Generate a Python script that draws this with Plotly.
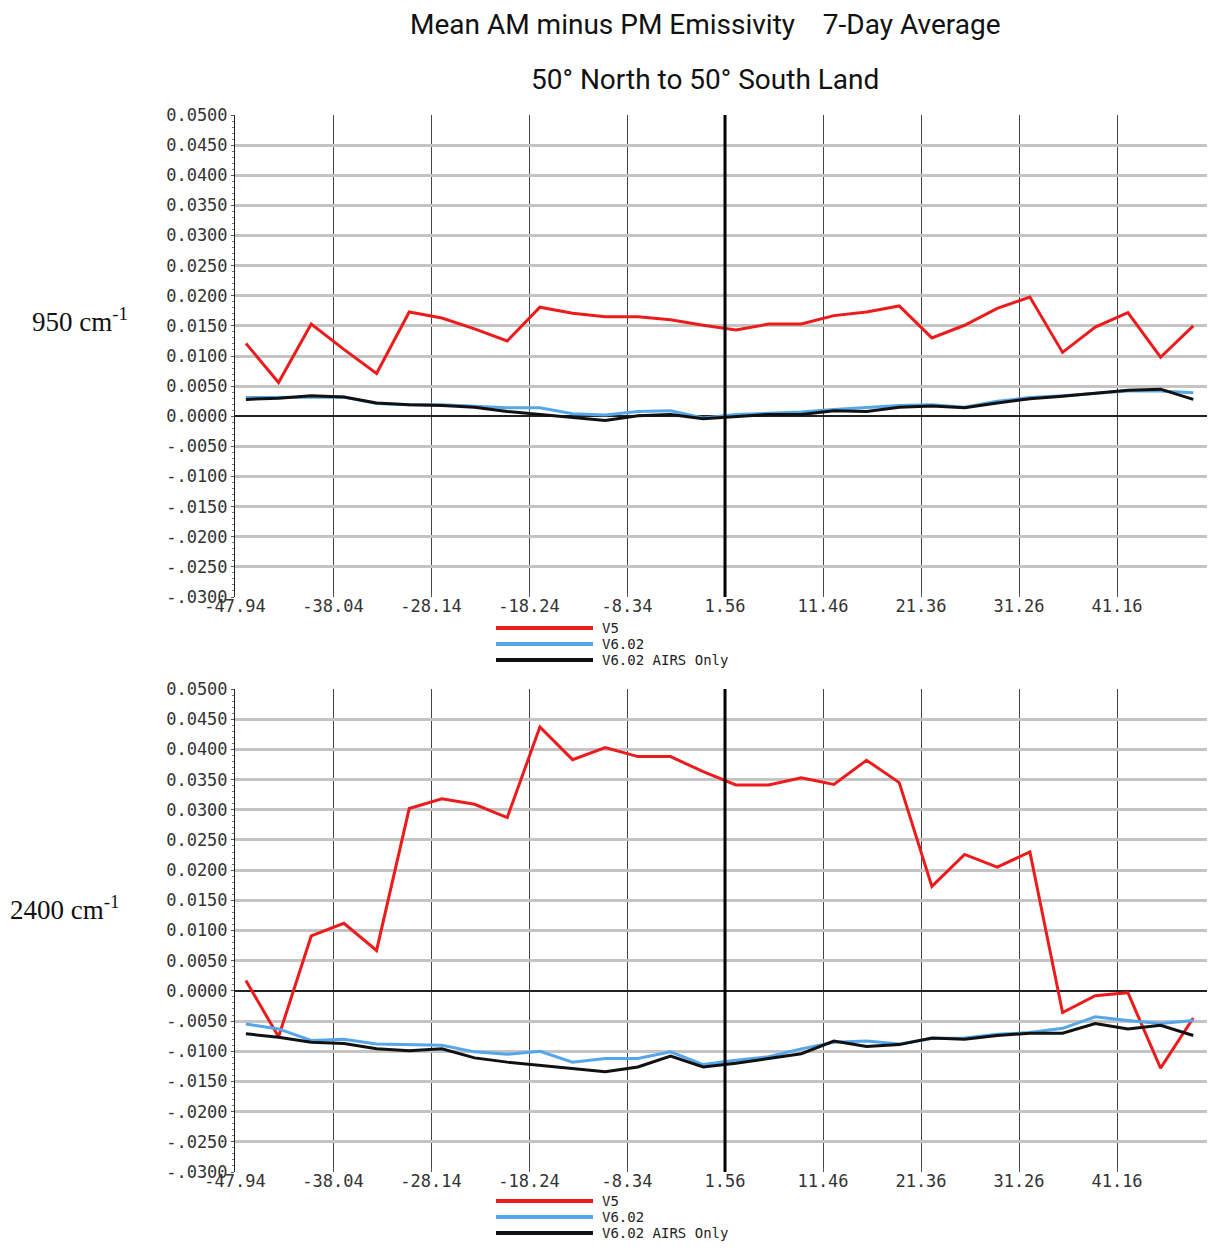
import plotly.graph_objects as go

# ---------------- data ----------------
latitudes = [-46.84, -43.54, -40.24, -36.94, -33.64, -30.34, -27.04, -23.74, -20.44, -17.14,
             -13.84, -10.54, -7.24, -3.94, -0.64, 2.66, 5.96, 9.26, 12.56, 15.86,
             19.16, 22.46, 25.76, 29.06, 32.36, 35.66, 38.96, 42.26, 45.56, 48.86]

v5_950 = [0.0121, 0.0056, 0.0153, 0.0111, 0.0071, 0.0173, 0.0163, 0.0145, 0.0125, 0.0181,
          0.0171, 0.0165, 0.0165, 0.0160, 0.0151, 0.0143, 0.0153, 0.0153, 0.0167, 0.0173,
          0.0183, 0.0130, 0.0151, 0.0179, 0.0198, 0.0106, 0.0148, 0.0172, 0.0098, 0.0150]
v602_950 = [0.0031, 0.0031, 0.0031, 0.0032, 0.0021, 0.0019, 0.0019, 0.0016, 0.0014, 0.0014,
            0.0004, 0.0002, 0.0008, 0.0009, -0.0003, 0.0003, 0.0005, 0.0007, 0.0011, 0.0014,
            0.0018, 0.0019, 0.0015, 0.0025, 0.0031, 0.0034, 0.0038, 0.0042, 0.0042, 0.0039]
airs_950 = [0.0028, 0.0030, 0.0034, 0.0032, 0.0022, 0.0019, 0.0018, 0.0015, 0.0008, 0.0003,
            -0.0001, -0.0007, 0.0001, 0.0003, -0.0004, -0.0001, 0.0003, 0.0003, 0.0009, 0.0008,
            0.0015, 0.0017, 0.0014, 0.0022, 0.0029, 0.0033, 0.0038, 0.0043, 0.0045, 0.0028]

v5_2400 = [0.0017, -0.0076, 0.0091, 0.0112, 0.0067, 0.0302, 0.0318, 0.0309, 0.0287, 0.0437,
           0.0383, 0.0403, 0.0388, 0.0388, 0.0363, 0.0341, 0.0341, 0.0353, 0.0342, 0.0382,
           0.0345, 0.0173, 0.0226, 0.0205, 0.0230, -0.0036, -0.0008, -0.0003, -0.0128, -0.0045]
v602_2400 = [-0.0055, -0.0063, -0.0082, -0.0080, -0.0088, -0.0089, -0.0090, -0.0101, -0.0105, -0.0100,
             -0.0118, -0.0112, -0.0112, -0.0101, -0.0122, -0.0115, -0.0109, -0.0096, -0.0085, -0.0083,
             -0.0088, -0.0079, -0.0078, -0.0072, -0.0069, -0.0062, -0.0043, -0.0049, -0.0054, -0.0049]
airs_2400 = [-0.0071, -0.0077, -0.0085, -0.0087, -0.0096, -0.0099, -0.0096, -0.0111, -0.0118, -0.0123,
             -0.0129, -0.0134, -0.0126, -0.0108, -0.0126, -0.0120, -0.0112, -0.0104, -0.0083, -0.0092,
             -0.0089, -0.0078, -0.0080, -0.0074, -0.0070, -0.0070, -0.0054, -0.0063, -0.0057, -0.0074]

series_names = ["V5", "V6.02", "V6.02 AIRS Only"]
series_colors = ["#ec1c1c", "#55a6ea", "#111111"]

x_tickvals = [-47.94, -38.04, -28.14, -18.24, -8.34, 1.56, 11.46, 21.36, 31.26, 41.16]
x_ticktext = ["-47.94", "-38.04", "-28.14", "-18.24", "-8.34", "1.56", "11.46", "21.36", "31.26", "41.16"]
y_tickvals = [0.05, 0.045, 0.04, 0.035, 0.03, 0.025, 0.02, 0.015, 0.01, 0.005, 0.0,
              -0.005, -0.01, -0.015, -0.02, -0.025, -0.03]
y_ticktext = ["0.0500", "0.0450", "0.0400", "0.0350", "0.0300", "0.0250", "0.0200", "0.0150",
              "0.0100", "0.0050", "0.0000", "-.0050", "-.0100", "-.0150", "-.0200", "-.0250", "-.0300"]
x_range = [-47.94, 50.25]
y_range = [-0.03, 0.05]
equator_line_lat = 1.56

title_line1 = "Mean AM minus PM Emissivity    7-Day Average"
title_line2 = "50° North to 50° South Land"
panel_labels = ["950 cm<sup>-1</sup>", "2400 cm<sup>-1</sup>"]

# ---------------- figure ----------------
# the page body has an 8px margin, so the figure is sized to fit the 1215x1251 window
OFF = 8
W, H = 1215 - 2 * OFF, 1251 - 2 * OFF


def px(p):
    return (p - OFF) / W


def py(p):
    return 1 - (p - OFF) / H


fig = go.Figure()

panels = [
    ("x", "y", [v5_950, v602_950, airs_950]),
    ("x2", "y2", [v5_2400, v602_2400, airs_2400]),
]
for xa, ya, ys in panels:
    for name, color, vals in zip(series_names, series_colors, ys):
        fig.add_trace(go.Scatter(
            x=latitudes, y=vals, mode="lines", name=name, xaxis=xa, yaxis=ya,
            line=dict(color=color, width=3), showlegend=False,
        ))

mono = "DejaVu Sans Mono, Liberation Mono, monospace"
xdom = [px(235), 1.0]
ydoms = [[py(597), py(115)], [py(1172), py(689)]]


def xaxis_cfg(anchor):
    return dict(domain=xdom, range=x_range, anchor=anchor, tickmode="array",
                tickvals=x_tickvals, ticktext=x_ticktext, showgrid=True,
                gridcolor="#444444", gridwidth=1, zeroline=False, showline=False,
                ticks="inside", ticklen=4, tickcolor="#555555", automargin=False,
                ticklabelstandoff=-3,
                tickfont=dict(family=mono, size=17, color="#333333"))


def yaxis_cfg(anchor, dom):
    return dict(domain=dom, range=y_range, anchor=anchor, tickmode="array",
                tickvals=y_tickvals, ticktext=y_ticktext, showgrid=True,
                gridcolor="#c4c4c4", gridwidth=3, zeroline=True,
                zerolinecolor="#222222", zerolinewidth=1.5,
                showline=True, linecolor="#222222", linewidth=1, automargin=False,
                ticks="outside", ticklen=3, tickcolor="#555555",
                minor=dict(ticks="outside", ticklen=2, dtick=0.001, tickcolor="#777777", showgrid=False),
                tickfont=dict(family=mono, size=17, color="#333333"))


fig.update_layout(
    width=W, height=H, margin=dict(l=0, r=0, t=0, b=0, autoexpand=False),
    paper_bgcolor="white", plot_bgcolor="white",
    xaxis=xaxis_cfg("y"), yaxis=yaxis_cfg("x", ydoms[0]),
    xaxis2=xaxis_cfg("y2"), yaxis2=yaxis_cfg("x2", ydoms[1]),
    showlegend=False,
)

# thick reference line at 1.56
for xa, ya in [("x", "y"), ("x2", "y2")]:
    fig.add_shape(type="line", xref=xa, yref=ya + " domain", x0=equator_line_lat, x1=equator_line_lat,
                  y0=0, y1=1, line=dict(color="black", width=3), layer="above")

# legends below each panel (key lines + names)
legend_font = dict(family=mono, size=14, color="#222222")
for first_row in (628, 1201):
    for i, (name, color) in enumerate(zip(series_names, series_colors)):
        yy = py(first_row + i * 16)
        fig.add_shape(type="line", xref="paper", yref="paper", x0=px(496), x1=px(593),
                      y0=yy, y1=yy, line=dict(color=color, width=4))
        fig.add_annotation(text=name, xref="paper", yref="paper", x=px(600), y=yy,
                           xanchor="left", yanchor="middle", showarrow=False, font=legend_font)

title_font = dict(family="Roboto, Liberation Sans, sans-serif", size=28, color="#111111")
fig.add_annotation(text=title_line1, xref="paper", yref="paper", x=px(705), y=py(25),
                   xanchor="center", yanchor="middle", showarrow=False, font=title_font)
fig.add_annotation(text=title_line2, xref="paper", yref="paper", x=px(705), y=py(80),
                   xanchor="center", yanchor="middle", showarrow=False, font=title_font)

label_font = dict(family="Liberation Serif, DejaVu Serif, serif", size=27, color="#111111")
fig.add_annotation(text=panel_labels[0], xref="paper", yref="paper", x=px(80), y=py(320),
                   xanchor="center", yanchor="middle", showarrow=False, font=label_font)
fig.add_annotation(text=panel_labels[1], xref="paper", yref="paper", x=px(65), y=py(908),
                   xanchor="center", yanchor="middle", showarrow=False, font=label_font)

fig.write_html("out.html")
